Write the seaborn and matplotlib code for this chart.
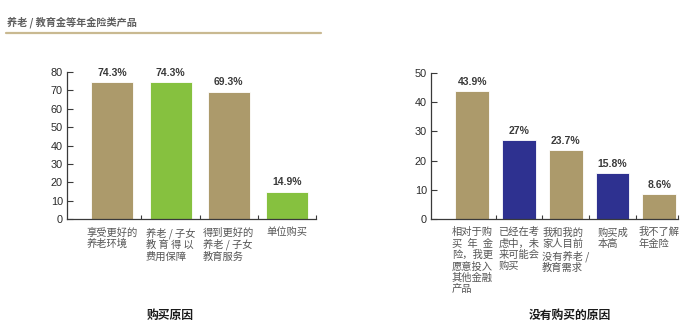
import matplotlib
matplotlib.use("Agg")
import matplotlib.pyplot as plt
import seaborn as sns
import pandas as pd
from matplotlib.ticker import FixedLocator

sns.set_theme(style="white")
plt.rcParams['font.family'] = ['Noto Sans CJK SC', 'DejaVu Sans']

EN = "\u2002"

# Reasons for buying
buy_labels = [
    "享受更好的\n养老环境",
    "养老 / 子女\n教 育 得 以\n费用保障",
    "得到更好的\n养老 / 子女\n教育服务",
    "单位购买",
]
buy_values = [74.3, 74.3, 69.3, 14.9]
buy_texts = ["74.3%", "74.3%", "69.3%", "14.9%"]
buy_colors = ["#ac9a6b", "#86c13f", "#ac9a6b", "#86c13f"]

# Reasons for not buying
nobuy_labels = [
    f"相对于购\n买{EN}年{EN}金\n险，我更\n愿意投入\n其他金融\n产品",
    "已经在考\n虑中，未\n来可能会\n购买",
    "我和我的\n家人目前\n没有养老 /\n教育需求",
    "购买成\n本高",
    "我不了解\n年金险",
]
nobuy_values = [43.9, 27.0, 23.7, 15.8, 8.6]
nobuy_texts = ["43.9%", "27%", "23.7%", "15.8%", "8.6%"]
nobuy_colors = ["#ac9a6b", "#2e3190", "#ac9a6b", "#2e3190", "#ac9a6b"]

fig = plt.figure(figsize=(7.0, 3.33), dpi=100)

# Section heading with rule
fig.text(7 / 700, 1 - 22 / 333, "养老 / 教育金等年金险类产品", fontsize=7.3,
         fontweight="bold", color="#5f5f5f", ha="left", va="center")
fig.add_artist(plt.Line2D([6 / 700, 321 / 700], [1 - 33 / 333, 1 - 33 / 333],
                          color="#c9b991", lw=1.6, transform=fig.transFigure))


def draw_panel(rect, labels, values, texts, colors, ymax, ystep, xlim, title, title_x):
    ax = fig.add_axes(rect)
    df = pd.DataFrame({"cat": labels, "val": values})
    sns.barplot(data=df, x="cat", y="val", hue="cat", palette=colors,
                legend=False, width=0.72, ax=ax, saturation=1,
                edgecolor="white", linewidth=0.6)
    ax.set_ylim(0, ymax)
    ax.set_xlim(*xlim)
    ax.set_yticks(range(0, ymax + 1, ystep))
    ax.set_xlabel("")
    ax.set_ylabel("")
    for s in ["top", "right"]:
        ax.spines[s].set_visible(False)
    for s in ["left", "bottom"]:
        ax.spines[s].set_color("#3a3a3a")
        ax.spines[s].set_linewidth(0.9)
    ax.tick_params(axis="y", direction="in", length=4, width=0.8, color="#3a3a3a",
                   labelsize=7.8, labelcolor="#2a2a2a", pad=3, left=True)
    for t in ax.get_yticklabels():
        t.set_fontfamily(["Liberation Sans", "DejaVu Sans"])
    # category labels
    ax.set_xticks(range(len(labels)))
    ax.set_xticklabels(labels, fontsize=7.4, color="#555555", linespacing=1.15,
                       va="top", multialignment="left")
    ax.tick_params(axis="x", which="major", length=0, pad=6)
    n = len(labels)
    ax.xaxis.set_minor_locator(FixedLocator([i + 0.5 for i in range(n - 1)] + [xlim[1]]))
    ax.tick_params(axis="x", which="minor", direction="in", length=3, width=0.8,
                   color="#3a3a3a", bottom=True)
    for i, (v, t) in enumerate(zip(values, texts)):
        ax.annotate(t, (i, v), xytext=(0, 3), textcoords="offset points",
                    ha="center", va="bottom", fontsize=7.5, fontweight="bold",
                    color="#3a3a3a", family=["Liberation Sans", "DejaVu Sans"])
    fig.text(title_x, 1 - 315 / 333, title, fontsize=8.5, fontweight="bold",
             color="#1a1a1a", ha="center", va="center")
    return ax


draw_panel([67 / 700, 1 - 219 / 333, (316 - 67) / 700, (219 - 72) / 333],
           buy_labels, buy_values, buy_texts, buy_colors, 80, 10,
           (-0.78, 3.5), "购买原因", 170 / 700)
draw_panel([431 / 700, 1 - 219 / 333, (678 - 431) / 700, (219 - 73) / 333],
           nobuy_labels, nobuy_values, nobuy_texts, nobuy_colors, 50, 10,
           (-0.88, 4.4), "没有购买的原因", 570 / 700)

fig.savefig("out.png", dpi=100)
